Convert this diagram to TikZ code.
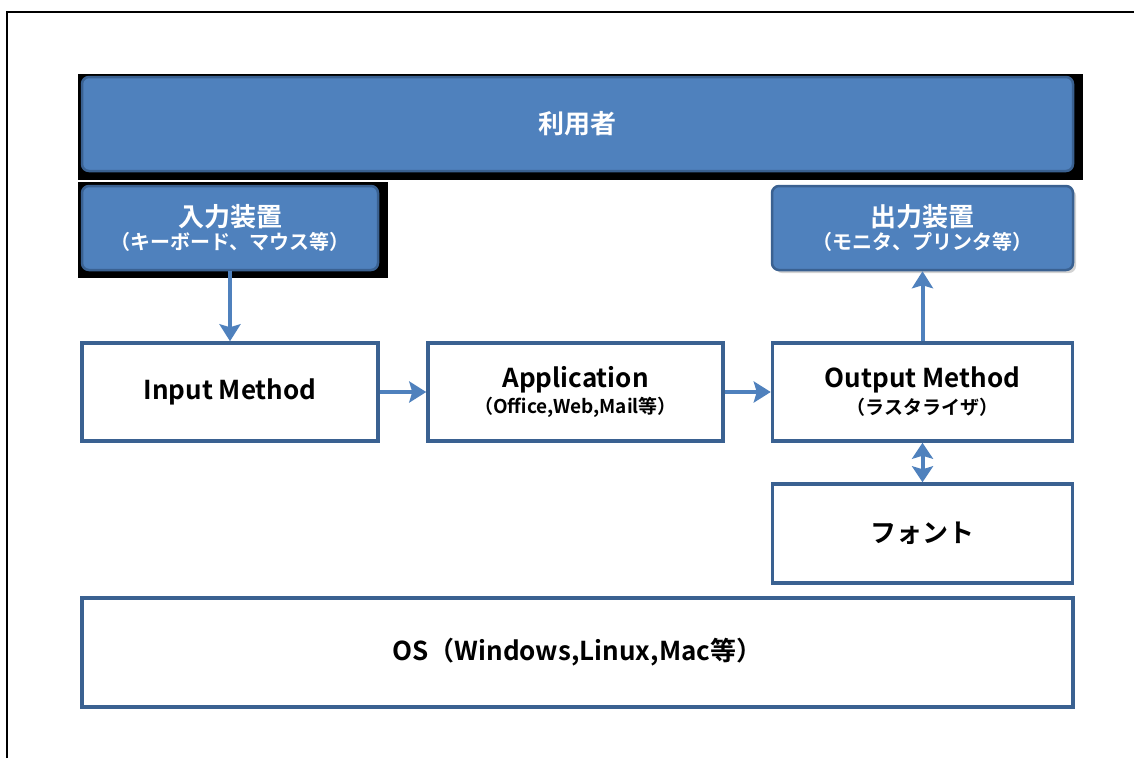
\documentclass[tikz,border=0pt]{standalone}
\usepackage{fontspec}
\setmainfont{Noto Sans CJK JP}[BoldFont={Noto Sans CJK JP Bold}]
\usetikzlibrary{arrows.meta, shadows}
\definecolor{blufill}{HTML}{4F81BD}
\definecolor{bluline}{HTML}{3A6191}
\tikzset{
  blubox/.style={draw=bluline, fill=blufill, line width=2.5pt, rounded corners=7pt,
    text=white, font=\bfseries, align=center, inner sep=0pt},
  wbox/.style={draw=bluline, line width=3.5pt, fill=white, align=center,
    font=\bfseries, inner sep=0pt},
  arr/.style={draw=blufill, line width=4pt, -{Stealth[width=21pt,length=17pt,inset=3pt]}},
  dblarr/.style={draw=blufill, line width=4pt,
    {Stealth[width=21pt,length=16pt,inset=3pt]}-{Stealth[width=21pt,length=16pt,inset=3pt]}},
}
\newcommand\bigtxt[1]{{\fontsize{26}{30}\selectfont #1}}
\newcommand\smltxt[1]{{\fontsize{19}{22}\selectfont #1}}
\newcommand\jptitle[1]{{\fontsize{26}{30}\selectfont #1}}
\newcommand\jpsub[1]{{\fontsize{20}{24}\selectfont #1}}

\begin{document}
\begin{tikzpicture}[x=1pt,y=-1pt]
\useasboundingbox (0,0) rectangle (1134,758);

% frame
\draw[line width=2.5pt] (7,758) -- (7,12) -- (1134,12);

% black backs behind the blue boxes
\fill (78,74) rectangle (1083,180);
\fill (78,182) rectangle (388,278);

% blue boxes
\node[blubox, minimum width=991pt, minimum height=94pt] (user) at (577.5,124) {\jptitle{利用者}};
\node[blubox, minimum width=296pt, minimum height=84pt] (inp) at (230,228)
  {\jptitle{入力装置}\\[3pt]\jpsub{（キーボード、マウス等）}};
\node[blubox, minimum width=301pt, minimum height=84pt,
  drop shadow={shadow xshift=3pt, shadow yshift=-3pt, opacity=0.35}] (outp) at (922.5,228)
  {\jptitle{出力装置}\\[3pt]\jpsub{（モニタ、プリンタ等）}};

% white boxes
\node[wbox, minimum width=296pt, minimum height=98pt] (im) at (230,392) {\bigtxt{Input Method}};
\node[wbox, minimum width=295pt, minimum height=98pt] (app) at (575.5,392)
  {\bigtxt{Application}\\[4pt]\smltxt{（Office,Web,Mail等）}};
\node[wbox, minimum width=300pt, minimum height=98pt] (om) at (922.5,392)
  {\bigtxt{Output Method}\\[4pt]\smltxt{（ラスタライザ）}};
\node[wbox, minimum width=300pt, minimum height=99pt] (fnt) at (922.5,533.5) {\bigtxt{フォント}};
\node[wbox, minimum width=991pt, minimum height=109pt] (os) at (577.5,652.5)
  {\bigtxt{OS（Windows,Linux,Mac等）}};

% connectors
\draw[arr] (inp.south) -- (im.north);
\draw[arr] (im.east) -- (app.west);
\draw[arr] (app.east) -- (om.west);
\draw[arr] (om.north) -- (outp.south);
\draw[dblarr] (om.south) -- (fnt.north);

\end{tikzpicture}
\end{document}
